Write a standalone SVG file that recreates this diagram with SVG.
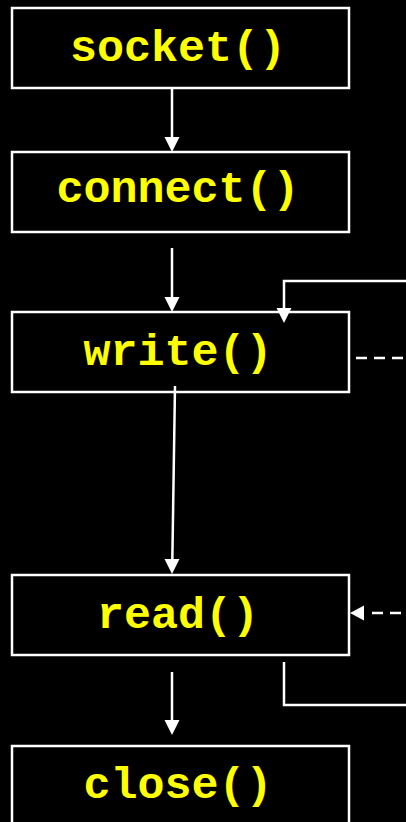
<svg xmlns="http://www.w3.org/2000/svg" width="406" height="822" viewBox="0 0 406 822">
<style>
.box{fill:#000;stroke:#fff;stroke-width:2.5}
.lbl{font-family:"Liberation Mono","Courier New",monospace;font-weight:bold;font-size:45px;fill:#ffff00;text-anchor:middle}
.ln{stroke:#fff;stroke-width:2.5;fill:none}
.dash{stroke:#fff;stroke-width:2.5;fill:none;stroke-dasharray:11 7}
.ah{fill:#fff}
</style>
<rect width="406" height="822" fill="#000"/>
<g id="socket"><rect class="box" x="12" y="8" width="337" height="80"/><text class="lbl" x="178" y="61">socket()</text></g>
<g id="connect"><rect class="box" x="12" y="152" width="337" height="80"/><text class="lbl" x="178" y="202">connect()</text></g>
<g id="write"><rect class="box" x="12" y="312" width="337" height="80"/><text class="lbl" x="178" y="365">write()</text></g>
<g id="read"><rect class="box" x="12" y="575" width="337" height="80"/><text class="lbl" x="178" y="628">read()</text></g>
<g id="close"><rect class="box" x="12" y="746" width="337" height="90"/><text class="lbl" x="178" y="798">close()</text></g>
<g id="connectors">
<line class="ln" x1="172" y1="88" x2="172" y2="140"/>
<polygon class="ah" points="164.5,137 179.5,137 172,152"/>
<line class="ln" x1="172" y1="248" x2="172" y2="300"/>
<polygon class="ah" points="164.5,297 179.5,297 172,312"/>
<line class="ln" x1="175" y1="386" x2="172.3" y2="562"/>
<polygon class="ah" points="164.5,559 179.5,559 172,574"/>
<line class="ln" x1="172" y1="672" x2="172" y2="723"/>
<polygon class="ah" points="164.5,720 179.5,720 172,735"/>
<polyline class="ln" points="406,281 284,281 284,310"/>
<polygon class="ah" points="276.5,308 291.5,308 284,323"/>
<line class="dash" x1="356" y1="358" x2="406" y2="358"/>
<line class="dash" x1="372" y1="613" x2="406" y2="613"/>
<polygon class="ah" points="350,613 364,605.5 364,620.5"/>
<polyline class="ln" points="284,662 284,705 406,705"/>
</g>
</svg>
